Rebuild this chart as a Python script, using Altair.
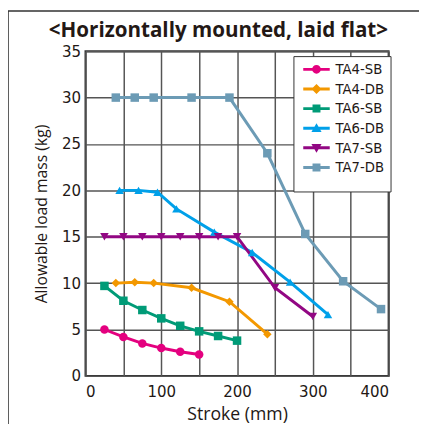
import altair as alt
import pandas as pd

series_names = ["TA4-SB", "TA4-DB", "TA6-SB", "TA6-DB", "TA7-SB", "TA7-DB"]
series_colors = ["#e4007f", "#f39800", "#009b77", "#00a0e9", "#920783", "#6c9bb5"]
marker_shapes = ["circle", "diamond", "square", "triangle-up", "triangle-down", "square"]

ta4_sb_stroke = [25, 50, 75, 100, 125, 150]
ta4_sb_load = [5.0, 4.2, 3.5, 3.0, 2.6, 2.3]

ta4_db_stroke = [40, 65, 90, 140, 190, 240]
ta4_db_load = [10.0, 10.1, 10.0, 9.5, 8.0, 4.5]

ta6_sb_stroke = [25, 50, 75, 100, 125, 150, 175, 200]
ta6_sb_load = [9.7, 8.1, 7.1, 6.2, 5.4, 4.8, 4.3, 3.8]

ta6_db_stroke = [45, 70, 95, 120, 170, 220, 270, 320]
ta6_db_load = [20.0, 20.0, 19.8, 18.0, 15.5, 13.3, 10.1, 6.6]

ta7_sb_stroke = [25, 50, 75, 100, 125, 150, 175, 200, 250, 300]
ta7_sb_load = [15.0, 15.0, 15.0, 15.0, 15.0, 15.0, 15.0, 15.0, 9.5, 6.4]

ta7_db_stroke = [40, 65, 90, 140, 190, 240, 290, 340, 390]
ta7_db_load = [30.0, 30.0, 30.0, 30.0, 30.0, 24.0, 15.3, 10.2, 7.2]

x_ticks = [0, 50, 100, 150, 200, 250, 300, 350, 400]
y_ticks = [0, 5, 10, 15, 20, 25, 30, 35]

all_strokes = [ta4_sb_stroke, ta4_db_stroke, ta6_sb_stroke, ta6_db_stroke, ta7_sb_stroke, ta7_db_stroke]
all_loads = [ta4_sb_load, ta4_db_load, ta6_sb_load, ta6_db_load, ta7_sb_load, ta7_db_load]

rows = []
for name, xs, ys in zip(series_names, all_strokes, all_loads):
    for i, (xv, yv) in enumerate(zip(xs, ys)):
        rows.append({"series": name, "stroke": xv, "load": yv, "order": i})
df = pd.DataFrame(rows)

# legend symbols: marker + short line segment (custom unit paths)
bar = "M-3,-0.33H3V0.33H-3Z "
legend_paths = [
    bar + "M1,0A1,1 0 1,1 -1,0A1,1 0 1,1 1,0Z",
    bar + "M0,-1.15L1.15,0L0,1.15L-1.15,0Z",
    bar + "M-0.9,-0.9H0.9V0.9H-0.9Z",
    bar + "M0,-1.1L1.15,0.85L-1.15,0.85Z",
    bar + "M-1.15,-0.85L1.15,-0.85L0,1.1Z",
    bar + "M-0.9,-0.9H0.9V0.9H-0.9Z",
]

FONT = "Liberation Sans Narrow, DejaVu Sans Condensed, Liberation Sans"
TFONT = "Open Sans"

x_enc = alt.X("stroke:Q", scale=alt.Scale(domain=[0, 400], nice=False),
              axis=alt.Axis(values=x_ticks, title="Stroke (mm)"))
y_enc = alt.Y("load:Q", scale=alt.Scale(domain=[0, 35], nice=False),
              axis=alt.Axis(values=y_ticks, title="Allowable load mass (kg)"))
color_scale = alt.Scale(domain=series_names, range=series_colors)
color_enc = alt.Color("series:N", scale=color_scale, legend=None)

base = alt.Chart(df)

frame = base.mark_rect(fill=None, stroke="#333", strokeWidth=1.6).encode(
    x=alt.value(-79), x2=alt.value(420), y=alt.value(-41), y2=alt.value(420)
).transform_filter("datum.order == 0 && datum.series == 'TA4-SB'")

lines = base.mark_line(strokeWidth=3).encode(
    x=x_enc, y=y_enc, color=color_enc, order="order:Q"
)

points = base.mark_point(filled=True, size=75, opacity=1).encode(
    x=x_enc, y=y_enc, color=color_enc,
    shape=alt.Shape("series:N", scale=alt.Scale(domain=series_names, range=marker_shapes), legend=None),
)

leg = alt.Legend(title=" ", titleOrient="bottom", titleFontSize=8, titlePadding=2)
legend_layer = base.mark_point(filled=True, opacity=1).encode(
    x=x_enc, y=y_enc,
    color=alt.Color("series:N", scale=color_scale, legend=leg),
    shape=alt.Shape("series:N", scale=alt.Scale(domain=series_names, range=legend_paths), legend=leg),
).transform_filter("false")

chart = alt.layer(frame, lines, points, legend_layer).resolve_scale(
    shape="independent", color="independent"
).properties(
    width=309,
    height=331,
    autosize=alt.AutoSizeParams(type="none"),
    padding={"left": 79, "top": 40, "right": 31, "bottom": 45},
    title=alt.TitleParams(
        "<Horizontally mounted, laid flat>",
        font=TFONT, fontSize=21, fontWeight="bold", color="#231815",
        anchor="middle", dx=-19, offset=-48, baseline="alphabetic",
    ),
).configure_view(
    stroke="#333", strokeWidth=2
).configure_axis(
    grid=True, gridColor="#555", gridWidth=1.5, gridOpacity=1,
    domain=False, ticks=False,
    labelFont=FONT, labelFontSize=17, labelColor="#231815",
    titleFont=TFONT, titleFontWeight="normal", titleColor="#231815",
).configure_axisX(
    labelPadding=8, titlePadding=6, titleFontSize=18,
).configure_axisY(
    labelPadding=5, titlePadding=12, titleFontSize=16,
).configure_legend(
    orient="none", legendX=212, legendY=5, padding=6,
    strokeColor="#333", fillColor="white",
    symbolSize=81, symbolStrokeWidth=0, symbolOffset=10,
    labelFont=FONT, labelFontSize=15, labelColor="#231815", labelOffset=12,
    rowPadding=4,
)

chart.save("out.html", embed_options={"renderer": "svg", "actions": False})
